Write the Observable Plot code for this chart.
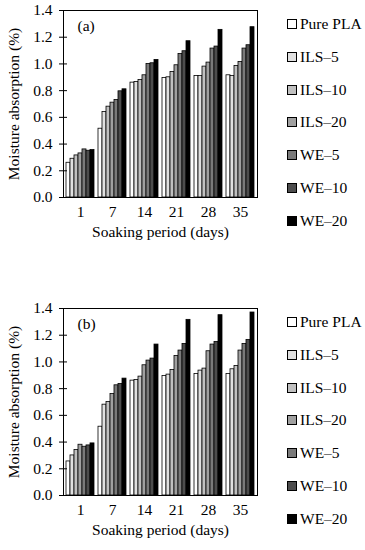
<!DOCTYPE html>
<html>
<head>
<meta charset="utf-8">
<script src="https://cdn.jsdelivr.net/npm/d3@7"></script>
<script src="https://cdn.jsdelivr.net/npm/@observablehq/plot@0.6"></script>
<style>
  body { margin: 0; background: #fff; font-family: "Liberation Serif", "Times New Roman", serif; }
  #root { position: relative; width: 365px; height: 550px; }
  .panel { position: absolute; left: 0; }
  .legend { position: absolute; left: 287px; font-size: 15.5px; color: #000; }
  .item { position: absolute; display: flex; align-items: center; white-space: nowrap; transform: translateY(-50%); }
  .sw { width: 8px; height: 8px; border: 1px solid #000; margin-right: 3px; }
</style>
</head>
<body>
<div id="root"></div>
<script>
const days = ["1", "7", "14", "21", "28", "35"];
const series = ["Pure PLA", "ILS–5", "ILS–10", "ILS–20", "WE–5", "WE–10", "WE–20"];
const colors = ["#ffffff", "#e0e0e0", "#c0c0c0", "#a0a0a0", "#7a7a7a", "#4d4d4d", "#000000"];
const yTicks = [0, 0.2, 0.4, 0.6, 0.8, 1.0, 1.2, 1.4];
const xLabel = "Soaking period (days)";
const yLabel = "Moisture absorption (%)";

// rows = days, columns = series
const valuesA = [
  [0.26, 0.29, 0.315, 0.33, 0.36, 0.35, 0.355],
  [0.515, 0.64, 0.68, 0.71, 0.73, 0.795, 0.81],
  [0.86, 0.865, 0.88, 0.915, 1.0, 1.005, 1.03],
  [0.895, 0.90, 0.94, 0.99, 1.075, 1.095, 1.17],
  [0.91, 0.91, 0.98, 1.01, 1.115, 1.13, 1.255],
  [0.915, 0.91, 0.985, 1.015, 1.115, 1.14, 1.275]
];
const valuesB = [
  [0.255, 0.30, 0.34, 0.38, 0.365, 0.375, 0.39],
  [0.515, 0.68, 0.70, 0.76, 0.825, 0.835, 0.875],
  [0.86, 0.865, 0.89, 0.975, 1.01, 1.025, 1.13],
  [0.895, 0.905, 0.94, 1.045, 1.085, 1.135, 1.315],
  [0.91, 0.935, 0.95, 1.08, 1.13, 1.15, 1.35],
  [0.91, 0.945, 0.97, 1.085, 1.135, 1.165, 1.37]
];

const key = (d, s) => d + "|" + s;
const xDomain = [];
days.forEach((d, i) => {
  if (i > 0) xDomain.push("gap" + i);
  series.forEach(s => xDomain.push(key(d, s)));
});
const tickKeys = days.map(d => key(d, series[3]));

function makeChart(values, tag, height, marginTop, marginBottom) {
  const data = [];
  days.forEach((d, i) => series.forEach((s, j) => data.push({day: d, series: s, key: key(d, s), value: values[i][j]})));
  return Plot.plot({
    width: 265,
    height,
    marginLeft: 63,
    marginRight: 8,
    marginTop,
    marginBottom,
    style: {fontFamily: "Liberation Serif, Times New Roman, serif", fontSize: "15.5px", color: "#000", background: "#fff"},
    x: {type: "band", domain: xDomain, paddingInner: 0, paddingOuter: 0.75, axis: null},
    y: {domain: [0, 1.4], axis: null},
    color: {type: "ordinal", domain: series, range: colors},
    marks: [
      Plot.barY(data, {x: "key", y: "value", fill: "series", stroke: "#000", strokeWidth: 0.8}),
      Plot.frame({stroke: "#000", strokeWidth: 1}),
      Plot.axisY({ticks: yTicks, tickFormat: d3.format(".1f"), tickSize: 4, tickPadding: 7,
        label: yLabel, labelAnchor: "center", labelOffset: 56, labelArrow: "none", fontSize: 15.5}),
      Plot.axisY({ticks: yTicks, tickFormat: () => "", tickSize: -4, label: null}),
      Plot.axisX({ticks: tickKeys, tickFormat: d => d.split("|")[0], tickSize: 0, tickPadding: 8,
        label: xLabel, labelAnchor: "center", labelOffset: 39, labelArrow: "none", fontSize: 15.5}),
      Plot.text([tag], {frameAnchor: "top-left", dx: 14, dy: 9, lineAnchor: "top", textAnchor: "start", fontSize: 15.5})
    ]
  });
}

const root = document.getElementById("root");
function addPanel(values, tag, top, height, marginTop, marginBottom, legendTop) {
  const wrap = document.createElement("div");
  wrap.className = "panel";
  wrap.style.top = top + "px";
  wrap.appendChild(makeChart(values, tag, height, marginTop, marginBottom));
  root.appendChild(wrap);
  const lg = document.createElement("div");
  lg.className = "legend";
  lg.style.top = legendTop + "px";
  series.forEach((s, i) => {
    const it = document.createElement("div");
    it.className = "item";
    it.style.top = (i * 32.8) + "px";
    const sw = document.createElement("span");
    sw.className = "sw";
    sw.style.background = colors[i];
    const tx = document.createElement("span");
    tx.textContent = s;
    it.appendChild(sw); it.appendChild(tx);
    lg.appendChild(it);
  });
  root.appendChild(lg);
}
addPanel(valuesA, "(a)", 0, 275, 10, 78, 24);
addPanel(valuesB, "(b)", 275, 275, 33, 55, 322);
</script>
</body>
</html>
